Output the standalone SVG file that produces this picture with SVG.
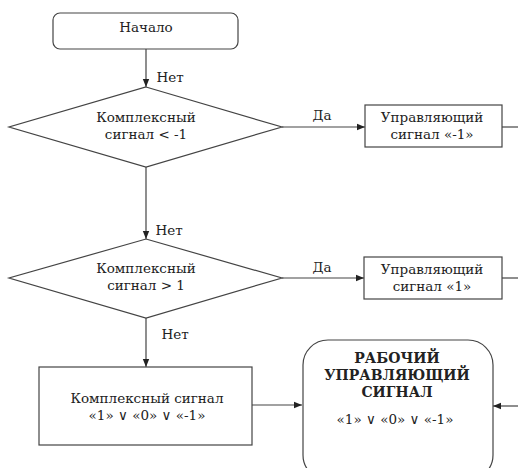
<svg xmlns="http://www.w3.org/2000/svg" width="518" height="468" viewBox="0 0 518 468" font-family="DejaVu Serif, serif">
<defs>
<marker id="ah" viewBox="0 0 10 10" refX="10" refY="5" markerWidth="8" markerHeight="8" markerUnits="userSpaceOnUse" orient="auto">
<path d="M0,1 L10,5 L0,9 Z" fill="#222"/>
</marker>
<style>
.s{fill:#fff;stroke:#444;stroke-width:1.2}
.t{font-size:13.5px;fill:#222;text-anchor:middle}
.b{font-weight:bold;font-size:14px}
.c{fill:none;stroke:#444;stroke-width:1.2}
</style>
</defs>
<rect width="518" height="468" fill="#fff"/>
<g id="connectors">
<line class="c" x1="146" y1="49" x2="146" y2="87" marker-end="url(#ah)"/>
<line class="c" x1="282" y1="127" x2="365" y2="127" marker-end="url(#ah)"/>
<line class="c" x1="502" y1="127" x2="518" y2="127"/>
<line class="c" x1="146" y1="167" x2="146" y2="239" marker-end="url(#ah)"/>
<line class="c" x1="282" y1="278" x2="364" y2="278" marker-end="url(#ah)"/>
<line class="c" x1="502" y1="278" x2="518" y2="278"/>
<line class="c" x1="146" y1="318" x2="146" y2="367" marker-end="url(#ah)"/>
<line class="c" x1="252" y1="405" x2="302" y2="405" marker-end="url(#ah)"/>
<line class="c" x1="518" y1="406" x2="493" y2="406" marker-end="url(#ah)"/>
<text class="t" x="170" y="82">Нет</text>
<text class="t" x="322" y="120">Да</text>
<text class="t" x="169" y="235">Нет</text>
<text class="t" x="322" y="272">Да</text>
<text class="t" x="175" y="339">Нет</text>
</g>
<g id="start">
<rect class="s" x="53" y="13" width="185" height="36" rx="7"/>
<text class="t" x="146" y="32">Начало</text>
</g>
<g id="dec1">
<polygon class="s" points="146,87 282,127 146,167 9,127"/>
<text class="t" x="146" y="122">Комплексный</text>
<text class="t" x="146" y="139">сигнал &lt; -1</text>
</g>
<g id="out1">
<rect class="s" x="365" y="105" width="137" height="42"/>
<text class="t" x="432" y="122">Управляющий</text>
<text class="t" x="432" y="139">сигнал «-1»</text>
</g>
<g id="dec2">
<polygon class="s" points="146,239 282,278 146,318 9,278"/>
<text class="t" x="146" y="273">Комплексный</text>
<text class="t" x="146" y="290">сигнал &gt; 1</text>
</g>
<g id="out2">
<rect class="s" x="364" y="257" width="138" height="42"/>
<text class="t" x="432" y="274">Управляющий</text>
<text class="t" x="432" y="291">сигнал «1»</text>
</g>
<g id="complex">
<rect class="s" x="39" y="367" width="213" height="78"/>
<text class="t" x="147" y="403">Комплексный сигнал</text>
<text class="t" x="147" y="420">«1» ∨ «0» ∨ «-1»</text>
</g>
<g id="work">
<rect class="s" x="303" y="340" width="190" height="140" rx="25"/>
<text class="t b" x="397" y="363">РАБОЧИЙ</text>
<text class="t b" x="397" y="380">УПРАВЛЯЮЩИЙ</text>
<text class="t b" x="397" y="397">СИГНАЛ</text>
<text class="t" x="395" y="424">«1» ∨ «0» ∨ «-1»</text>
</g>
</svg>
